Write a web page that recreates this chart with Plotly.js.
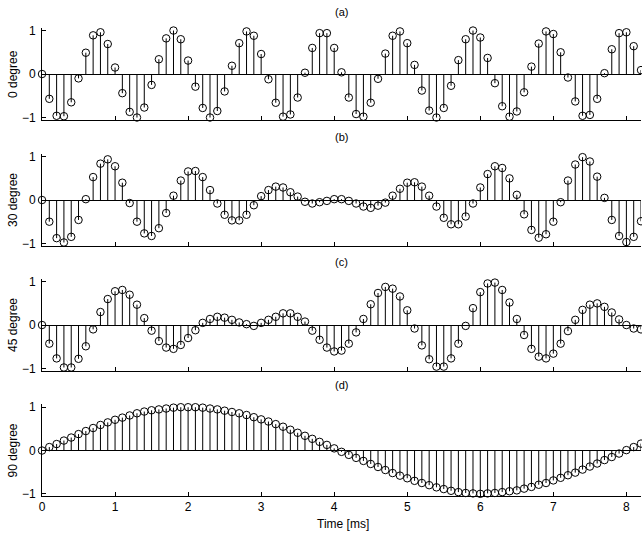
<!DOCTYPE html>
<html><head><meta charset="utf-8">
<script src="https://cdn.plot.ly/plotly-3.0.1.min.js"></script>
<style>html,body{margin:0;padding:0;background:#fff}#chart{width:642px;height:536px}</style>
</head><body><div id="chart"></div>
<script>
const timeMs = [0,0.1,0.2,0.3,0.4,0.5,0.6,0.7,0.8,0.9,1.0,1.1,1.2,1.3,1.4,1.5,1.6,1.7,1.8,1.9,2.0,2.1,2.2,2.3,2.4,2.5,2.6,2.7,2.8,2.9,3.0,3.1,3.2,3.3,3.4,3.5,3.6,3.7,3.8,3.9,4.0,4.1,4.2,4.3,4.4,4.5,4.6,4.7,4.8,4.9,5.0,5.1,5.2,5.3,5.4,5.5,5.6,5.7,5.8,5.9,6.0,6.1,6.2,6.3,6.4,6.5,6.6,6.7,6.8,6.9,7.0,7.1,7.2,7.3,7.4,7.5,7.6,7.7,7.8,7.9,8.0,8.1,8.2];
const deg0 = [0,-0.57,-0.96,-0.97,-0.65,-0.10,0.49,0.89,0.96,0.69,0.15,-0.44,-0.87,-1.0,-0.77,-0.25,0.34,0.82,1.0,0.80,0.31,-0.29,-0.78,-1.0,-0.85,-0.40,0.19,0.71,0.98,0.88,0.46,-0.12,-0.66,-0.98,-0.93,-0.54,0.03,0.60,0.94,0.94,0.60,0.04,-0.54,-0.92,-0.98,-0.66,-0.11,0.47,0.88,0.98,0.71,0.21,-0.38,-0.84,-1.0,-0.78,-0.27,0.32,0.80,1.0,0.84,0.37,-0.21,-0.74,-0.98,-0.86,-0.42,0.17,0.70,0.98,0.92,0.50,-0.08,-0.63,-0.96,-0.94,-0.57,0.02,0.57,0.94,0.96,0.64,0.09];
const deg30 = [0,-0.50,-0.88,-0.98,-0.85,-0.46,0.02,0.53,0.84,0.94,0.78,0.40,-0.07,-0.50,-0.77,-0.83,-0.65,-0.30,0.10,0.45,0.66,0.67,0.53,0.23,-0.08,-0.34,-0.47,-0.47,-0.34,-0.12,0.09,0.23,0.31,0.29,0.18,0.08,-0.04,-0.08,-0.05,-0.02,0.02,0.02,-0.02,-0.08,-0.15,-0.18,-0.13,-0.06,0.10,0.26,0.40,0.41,0.31,0.10,-0.15,-0.41,-0.56,-0.56,-0.38,-0.08,0.29,0.60,0.78,0.74,0.50,0.12,-0.33,-0.69,-0.87,-0.79,-0.50,-0.05,0.45,0.82,0.99,0.89,0.54,0.05,-0.46,-0.83,-0.97,-0.85,-0.49];
const deg45 = [0,-0.43,-0.77,-0.98,-0.98,-0.78,-0.49,-0.10,0.30,0.60,0.78,0.81,0.70,0.47,0.16,-0.13,-0.37,-0.52,-0.55,-0.46,-0.30,-0.12,0.05,0.14,0.19,0.17,0.12,0.06,0.02,-0.02,0.05,0.12,0.19,0.27,0.27,0.19,0.08,-0.13,-0.34,-0.52,-0.61,-0.59,-0.43,-0.17,0.14,0.48,0.74,0.88,0.84,0.66,0.34,-0.08,-0.47,-0.79,-0.96,-0.96,-0.77,-0.43,-0.02,0.39,0.76,0.96,0.98,0.81,0.52,0.14,-0.23,-0.55,-0.73,-0.77,-0.66,-0.43,-0.14,0.12,0.35,0.47,0.50,0.42,0.29,0.13,0.0,-0.08,-0.10];
const deg90 = [0,0.08,0.15,0.23,0.30,0.38,0.45,0.52,0.59,0.65,0.71,0.76,0.81,0.86,0.90,0.93,0.95,0.97,0.99,1.0,1.0,1.0,0.99,0.97,0.95,0.92,0.89,0.86,0.82,0.77,0.72,0.67,0.61,0.55,0.48,0.41,0.34,0.27,0.20,0.13,0.05,-0.03,-0.10,-0.17,-0.24,-0.31,-0.38,-0.45,-0.52,-0.58,-0.64,-0.70,-0.75,-0.80,-0.85,-0.89,-0.93,-0.96,-0.98,-0.99,-1.0,-0.99,-0.98,-0.96,-0.94,-0.92,-0.88,-0.84,-0.79,-0.75,-0.69,-0.63,-0.57,-0.51,-0.44,-0.37,-0.30,-0.22,-0.15,-0.07,0.01,0.08,0.16];
const panelLabels = ['(a)', '(b)', '(c)', '(d)'];
const yTitles = ['0 degree', '30 degree', '45 degree', '90 degree'];
const xTickVals = [0, 1, 2, 3, 4, 5, 6, 7, 8];
const yTickVals = [-1, 0, 1];
const xTitle = 'Time [ms]';

const series = [deg0, deg30, deg45, deg90];
const W = 642, H = 536;
const panelPx = [[27.5, 119.7], [153.7, 245.5], [278.7, 370.5], [404.2, 496.0]];
const titlePx = [12, 137, 262, 385];
const FONT = 'Liberation Sans, Arial, Helvetica, sans-serif';

const traces = [];
const layout = {
  width: W, height: H,
  margin: {l: 42, r: 1, t: 0, b: 0},
  paper_bgcolor: '#fff', plot_bgcolor: '#fff',
  showlegend: false,
  font: {family: FONT, size: 11, color: '#000'},
  annotations: []
};

series.forEach((vals, i) => {
  const n = i + 1;
  const xa = 'x' + (n === 1 ? '' : n), ya = 'y' + (n === 1 ? '' : n);
  const sx = [], sy = [];
  timeMs.forEach((t, k) => { sx.push(t, t, null); sy.push(0, vals[k], null); });
  traces.push({type: 'scatter', mode: 'lines', x: sx, y: sy, xaxis: xa, yaxis: ya,
    line: {color: '#000', width: 1}, hoverinfo: 'skip', cliponaxis: false});
  traces.push({type: 'scatter', mode: 'markers', x: timeMs, y: vals, xaxis: xa, yaxis: ya,
    marker: {symbol: 'circle-open', size: 7.5, color: '#000', line: {width: 1, color: '#000'}},
    cliponaxis: false});
  const [top, bot] = panelPx[i];
  const xKey = 'xaxis' + (n === 1 ? '' : n), yKey = 'yaxis' + (n === 1 ? '' : n);
  layout[xKey] = {
    domain: [0, 1], anchor: ya, range: [0, 8.2],
    tickvals: xTickVals, ticks: 'inside', ticklen: 4, tickcolor: '#000', tickwidth: 1,
    showticklabels: n === 4, tickfont: {family: FONT, size: 12, color: '#000'},
    ticklabelstandoff: 0,
    showline: true, linecolor: '#000', linewidth: 1, mirror: false,
    showgrid: false, zeroline: false, fixedrange: true
  };
  layout[yKey] = {
    domain: [1 - bot / H, 1 - top / H], anchor: xa, range: [-1.05, 1.07],
    tickvals: yTickVals, ticktext: ['\u22121', '0', '1'],
    ticks: 'inside', ticklen: 4, tickcolor: '#000', tickwidth: 1,
    tickfont: {family: FONT, size: 12, color: '#000'}, ticklabelstandoff: 3,
    showline: true, linecolor: '#000', linewidth: 1, mirror: false,
    showgrid: false, zeroline: true, zerolinecolor: '#000', zerolinewidth: 1, fixedrange: true
  };
  layout.annotations.push({
    text: yTitles[i], xref: 'paper', yref: ya, x: (13 - 42) / 599, y: 0,
    xanchor: 'center', yanchor: 'middle', textangle: -90, showarrow: false,
    font: {family: FONT, size: 12, color: '#000'}
  });
  layout.annotations.push({
    text: panelLabels[i], xref: 'paper', yref: 'paper', x: 0.5, y: 1 - titlePx[i] / H,
    xanchor: 'center', yanchor: 'middle', showarrow: false,
    font: {family: FONT, size: 11, color: '#000'}
  });
});
layout.annotations.push({
  text: xTitle, xref: 'paper', yref: 'paper', x: (343 - 42) / 599, y: 1 - 524 / H,
  xanchor: 'center', yanchor: 'middle', showarrow: false,
  font: {family: FONT, size: 12, color: '#000'}
});

Plotly.newPlot('chart', traces, layout, {staticPlot: true, displayModeBar: false});
</script></body></html>
